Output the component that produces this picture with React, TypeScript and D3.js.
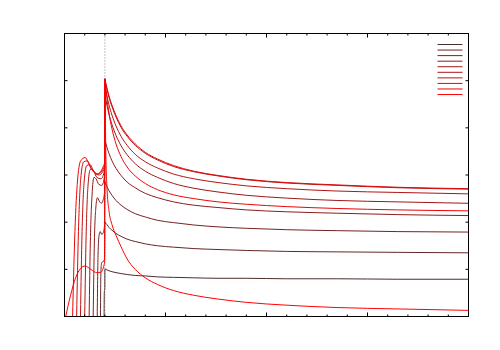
import React from "react";
import * as d3 from "d3";

const W = 500;
const H = 350;
const LEFT = 64.5;
const RIGHT = 468.5;
const TOP = 33.5;
const BOTTOM = 316.5;

const X_MAX = 20;
const Y_MAX = 6;
const PULSE_X = 2;

// rising part before the pulse, [x, y]
const pre0 = [[1.96, 0], [1.97, 0.5], [1.985, 0.57], [1.995, 0.6]];
const pre1 = [[1.78, 0], [1.8, 0.9], [1.83, 1.12], [1.88, 1.16], [1.94, 1.17], [1.985, 1.25]];
const pre2 = [[1.62, 0], [1.66, 1.3], [1.71, 1.72], [1.77, 1.8], [1.84, 1.74], [1.92, 1.78], [1.985, 1.95]];
const pre3 = [[1.42, 0], [1.48, 1.6], [1.55, 2.3], [1.63, 2.52], [1.72, 2.45], [1.82, 2.4], [1.92, 2.48], [1.985, 2.65]];
const pre4 = [[1.22, 0], [1.28, 1.6], [1.36, 2.55], [1.46, 2.95], [1.56, 2.92], [1.7, 2.8], [1.85, 2.78], [1.985, 3.0]];
const pre5 = [[1.0, 0], [1.07, 1.7], [1.16, 2.75], [1.28, 3.12], [1.42, 3.1], [1.6, 2.95], [1.8, 2.92], [1.985, 3.1]];
const pre6 = [[0.79, 0], [0.87, 1.8], [0.97, 2.85], [1.1, 3.2], [1.26, 3.22], [1.45, 3.08], [1.7, 3.0], [1.985, 3.15]];
const pre7 = [[0.6, 0], [0.69, 1.8], [0.8, 2.9], [0.95, 3.28], [1.12, 3.3], [1.35, 3.12], [1.65, 3.02], [1.985, 3.2]];
const pre8 = [[0.4, 0], [0.5, 1.6], [0.63, 2.8], [0.8, 3.3], [1.02, 3.37], [1.3, 3.15], [1.6, 3.02], [1.985, 3.25]];
const pre9 = [[0.06, 0], [0.3, 0.45], [0.55, 0.82], [0.8, 1.02], [1.02, 1.07], [1.3, 1.0], [1.6, 0.93], [1.8, 0.94], [1.985, 1.15]];

// value at the pulse
const peaks = [1.01, 2.01, 2.86, 3.74, 4.7, 4.9, 5.0, 5.04, 5.04, 5.04];

// decay after the pulse
const postX = [2.04, 2.1, 2.2, 2.35, 2.55, 2.8, 3.1, 3.5, 4.0, 4.6, 5.4, 6.4, 7.6, 9, 11, 13.5, 16.5, 20];
const post0 = [1.0, 0.99, 0.97, 0.95, 0.93, 0.91, 0.89, 0.87, 0.86, 0.84, 0.83, 0.82, 0.81, 0.81, 0.8, 0.8, 0.79, 0.79];
const post1 = [1.98, 1.95, 1.89, 1.83, 1.76, 1.7, 1.64, 1.59, 1.54, 1.5, 1.47, 1.44, 1.42, 1.4, 1.38, 1.37, 1.36, 1.35];
const post2 = [2.82, 2.76, 2.67, 2.57, 2.46, 2.36, 2.27, 2.18, 2.11, 2.04, 1.99, 1.94, 1.9, 1.87, 1.84, 1.82, 1.8, 1.79];
const post3 = [3.68, 3.59, 3.46, 3.3, 3.14, 2.99, 2.85, 2.73, 2.61, 2.52, 2.43, 2.36, 2.31, 2.26, 2.22, 2.19, 2.16, 2.14];
const post4 = [4.61, 4.48, 4.29, 4.07, 3.84, 3.62, 3.43, 3.24, 3.08, 2.95, 2.82, 2.72, 2.64, 2.57, 2.51, 2.46, 2.43, 2.4];
const post5 = [4.81, 4.68, 4.49, 4.27, 4.04, 3.82, 3.63, 3.44, 3.28, 3.15, 3.02, 2.92, 2.84, 2.77, 2.71, 2.66, 2.63, 2.6];
const post6 = [4.93, 4.82, 4.65, 4.45, 4.23, 4.01, 3.82, 3.63, 3.46, 3.32, 3.18, 3.07, 2.98, 2.9, 2.83, 2.78, 2.73, 2.7];
const post7 = [4.96, 4.85, 4.68, 4.48, 4.26, 4.04, 3.85, 3.66, 3.48, 3.34, 3.2, 3.08, 2.99, 2.91, 2.84, 2.79, 2.74, 2.71];
const post8 = [4.86, 4.63, 4.32, 3.98, 3.66, 3.39, 3.17, 2.98, 2.82, 2.69, 2.58, 2.5, 2.43, 2.38, 2.33, 2.29, 2.26, 2.24];
const post9 = [3.6, 2.75, 2.25, 1.95, 1.72, 1.48, 1.22, 1.0, 0.82, 0.68, 0.55, 0.45, 0.37, 0.3, 0.24, 0.19, 0.16, 0.13];

const preList = [pre0, pre1, pre2, pre3, pre4, pre5, pre6, pre7, pre8, pre9];
const postList = [post0, post1, post2, post3, post4, post5, post6, post7, post8, post9];

const series = preList.map((pre, i) =>
  pre
    .concat([[PULSE_X, peaks[i]]])
    .concat(postX.map((x, j) => [x, postList[i][j]]))
);

const color = (i: number) => d3.interpolateRgb("#4f2c2c", "#ff0000")(i / (series.length - 1));

export default function App() {
  const x = d3.scaleLinear().domain([0, X_MAX]).range([LEFT, RIGHT]);
  const y = d3.scaleLinear().domain([0, Y_MAX]).range([BOTTOM, TOP]);

  const line = d3
    .line<number[]>()
    .x((d) => x(d[0]))
    .y((d) => y(d[1]))
    .curve(d3.curveMonotoneX);

  const xTicks = d3.range(0, X_MAX + 1, 1);
  const yTicks = d3.range(0, Y_MAX + 1, 1);

  const legendX1 = 437.5;
  const legendX2 = 462.5;
  const legendY = 44.5;
  const legendStep = 5.56;

  return (
    <>
      <style>{`body{margin:0}`}</style>
      <svg width={W} height={H} style={{ display: "block", background: "#fff" }}>
        <defs>
          <clipPath id="plot">
            <rect x={LEFT} y={TOP} width={RIGHT - LEFT} height={BOTTOM - TOP} />
          </clipPath>
        </defs>

        <line
          x1={x(PULSE_X)}
          x2={x(PULSE_X)}
          y1={TOP}
          y2={BOTTOM}
          stroke="#888"
          strokeWidth={1}
          strokeDasharray="1,2"
        />

        <g clipPath="url(#plot)" fill="none">
          {series.map((s, i) => (
            <path key={i} d={line(s) || ""} stroke={color(i)} strokeWidth={1} />
          ))}
        </g>

        <g stroke="#000" strokeWidth={1}>
          {xTicks.map((t) => {
            const len = t % 5 === 0 ? 4 : 2;
            return (
              <g key={"x" + t}>
                <line x1={x(t)} x2={x(t)} y1={BOTTOM} y2={BOTTOM - len} />
                <line x1={x(t)} x2={x(t)} y1={TOP} y2={TOP + len} />
              </g>
            );
          })}
          {yTicks.map((t) => (
            <g key={"y" + t}>
              <line x1={LEFT} x2={LEFT + 3} y1={y(t)} y2={y(t)} />
              <line x1={RIGHT} x2={RIGHT - 3} y1={y(t)} y2={y(t)} />
            </g>
          ))}
        </g>

        <rect
          x={LEFT}
          y={TOP}
          width={RIGHT - LEFT}
          height={BOTTOM - TOP}
          fill="none"
          stroke="#000"
          strokeWidth={1}
        />

        <g>
          {series.map((_, i) => (
            <line
              key={i}
              x1={legendX1}
              x2={legendX2}
              y1={legendY + i * legendStep}
              y2={legendY + i * legendStep}
              stroke={color(i)}
              strokeWidth={1}
            />
          ))}
        </g>
      </svg>
    </>
  );
}
